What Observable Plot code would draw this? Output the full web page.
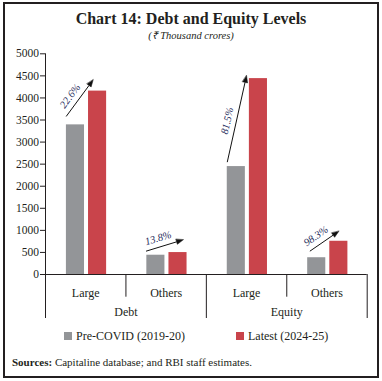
<!DOCTYPE html>
<html><head><meta charset="utf-8">
<script src="https://cdn.jsdelivr.net/npm/d3@7"></script>
<script src="https://cdn.jsdelivr.net/npm/@observablehq/plot@0.6"></script>
<style>
body{margin:0;background:#fff;font-family:"Liberation Serif",serif;color:#231f20;}
#frame{position:absolute;left:3px;top:2px;width:372px;height:372px;border:2px solid #231f20;}
.t{position:absolute;white-space:nowrap;}
.sw{display:inline-block;width:8px;height:8px;margin-right:4px;vertical-align:-0px;}
</style></head><body>
<div id="frame"></div>
<div class="t" style="left:0;width:382px;top:9px;text-align:center;font-weight:bold;font-size:16px;line-height:20px;">Chart 14: Debt and Equity Levels</div>
<div class="t" style="left:0;width:382px;top:29px;text-align:center;font-style:italic;font-size:10.5px;line-height:14px;">(₹ Thousand crores)</div>
<div id="chart" style="position:absolute;left:0;top:40px;"></div>
<div id="legend"></div>
<div class="t" style="left:12px;top:355px;font-size:11px;line-height:14px;"><b>Sources:</b> Capitaline database; and RBI staff estimates.</div>
<script>
// ---- data ----
const groups = ["Debt", "Debt", "Equity", "Equity"];
const sizes = ["Large", "Others", "Large", "Others"];
const preCovid = [3390, 437, 2445, 380];
const latest = [4155, 497, 4438, 753];
const growth = ["22.6%", "13.8%", "81.5%", "98.3%"];
const seriesNames = ["Pre-COVID (2019-20)", "Latest (2024-25)"];
const seriesColors = ["#939598", "#c9444b"];
const yTicks = [0, 500, 1000, 1500, 2000, 2500, 3000, 3500, 4000, 4500, 5000];

// ---- layout ----
const W = 382, H = 285, mL = 45, mR = 15.3, mT = 13.3, mB = 51;
const kx = (W - mL - mR) / 4, ky = (H - mT - mB) / 5000;
const pxX = p => p / kx, pxY = p => p / ky;

const bars = sizes.flatMap((s, i) => [
  {x1: i + 0.26, x2: i + 0.485, v: preCovid[i], s: seriesNames[0]},
  {x1: i + 0.535, x2: i + 0.76, v: latest[i], s: seriesNames[1]}
]);

// annotation arrow placement (start/end relative to bar tops)
const arrowGeom = [
  {sx: 0.257, sy: 190, ex: 0.593, ey: 256},
  {sx: 0.25, sy: 91, ex: 0.713, ey: 289},
  {sx: 0.26, sy: 100, ex: 0.50, ey: 70},
  {sx: 0.287, sy: 148, ex: 0.648, ey: 228}
];
const lines = [], heads = [], labels = [];
arrowGeom.forEach((g, i) => {
  const x1 = i + g.sx, y1 = preCovid[i] + g.sy, x2 = i + g.ex, y2 = latest[i] + g.ey;
  const dxp = (x2 - x1) * kx, dyp = -(y2 - y1) * ky;
  const len = Math.hypot(dxp, dyp), ux = dxp / len, uy = dyp / len;
  const off = (x, y, ox, oy) => ({x: x + pxX(ox), y: y - pxY(oy)});
  const hl = 7, hw = 2.6;
  const base = off(x2, y2, -ux * hl, -uy * hl);
  lines.push({x1, y1, x2: base.x, y2: base.y});
  const a = off(base.x, base.y, -uy * hw, ux * hw), b = off(base.x, base.y, uy * hw, -ux * hw);
  heads.push({k: i, x: x2, y: y2}, {k: i, ...a}, {k: i, ...b});
  const mx = (x1 + x2) / 2, my = (y1 + y2) / 2;
  const lp = off(mx, my, uy * 9 - ux * 4, -ux * 9 - uy * 4);
  labels.push({x: lp.x, y: lp.y, t: growth[i], r: Math.atan2(dyp, dxp) * 180 / Math.PI});
});

const idx = sizes.map((s, i) => i);
const grp = [{x: 1, t: "Debt"}, {x: 3, t: "Equity"}];

const chart = Plot.plot({
  width: W, height: H,
  marginLeft: mL, marginRight: mR, marginTop: mT, marginBottom: mB,
  style: {fontFamily: "Liberation Serif", fontSize: "11.5px", color: "#231f20", background: "transparent"},
  x: {domain: [0, 4], axis: null},
  y: {domain: [0, 5000], ticks: yTicks, tickSize: 5, tickPadding: 1.5, label: null, tickFormat: d => String(d)},
  color: {domain: seriesNames, range: seriesColors},
  marks: [
    Plot.rect(bars, {x1: "x1", x2: "x2", y1: 0, y2: "v", fill: "s"}),
    Plot.ruleY([0], {x1: 0, x2: 4, stroke: "#231f20"}),
    Plot.ruleX([0], {y1: 0, y2: 5000, stroke: "#231f20"}),
    Plot.ruleX([1, 3], {y1: 0, y2: -pxY(22.7), stroke: "#231f20"}),
    Plot.ruleX([0, 2, 4], {y1: 0, y2: -pxY(44), stroke: "#231f20"}),
    Plot.text(idx, {x: i => i + 0.5, y: 0, dy: 18.5, text: i => sizes[i], fill: "#231f20", fontSize: 12}),
    Plot.text(grp, {x: "x", y: 0, dy: 37.5, text: "t", fill: "#231f20", fontSize: 12}),
    Plot.link(lines, {x1: "x1", y1: "y1", x2: "x2", y2: "y2", stroke: "#111", strokeWidth: 1}),
    Plot.line(heads, {x: "x", y: "y", z: "k", fill: "#111", stroke: "#111", strokeWidth: 0.5, curve: "linear-closed"}),
    Plot.text(labels, {x: "x", y: "y", text: "t", rotate: "r", fill: "#1f2d5c", fontSize: 10.5, fontStyle: "italic"})
  ]
});
document.getElementById("chart").append(chart);

const leg = document.getElementById("legend");
const legX = [64, 236];
seriesNames.forEach((n, i) => {
  const d = document.createElement("div");
  d.className = "t";
  d.style.cssText = `left:${legX[i]}px;top:329px;font-size:12px;line-height:14px;`;
  d.innerHTML = `<span class="sw" style="background:${seriesColors[i]}"></span>${n}`;
  leg.append(d);
});
</script>
</body></html>
